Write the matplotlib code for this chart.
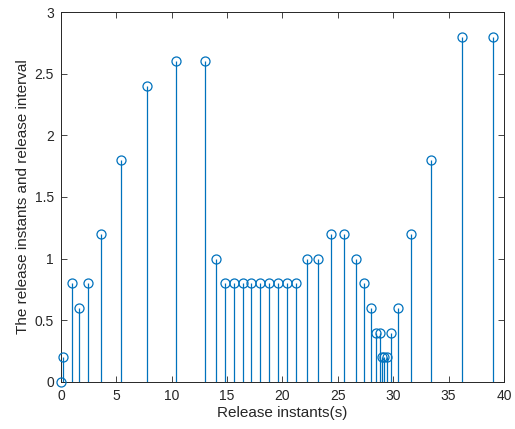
import numpy as np
import matplotlib
matplotlib.use('Agg')
import matplotlib.pyplot as plt

plt.rcParams['font.family'] = ['Liberation Sans', 'DejaVu Sans']

# release intervals; release instants are their running sum
intervals = [0, 0.2, 0.8, 0.6, 0.8, 1.2, 1.8, 2.4, 2.6, 2.6,
             1.0, 0.8, 0.8, 0.8, 0.8, 0.8, 0.8, 0.8, 0.8, 0.8,
             1.0, 1.0, 1.2, 1.2, 1.0, 0.8, 0.6, 0.4, 0.4,
             0.2, 0.2, 0.2, 0.4, 0.6, 1.2, 1.8, 2.8, 2.8]
instants = np.cumsum(intervals)

xticks = [0, 5, 10, 15, 20, 25, 30, 35, 40]
yticks = [0, 0.5, 1, 1.5, 2, 2.5, 3]

fig = plt.figure(figsize=(5.15, 4.29), dpi=100)
ax = fig.add_axes([0.1184, 0.1096, 0.8602, 0.8624])

c = '#0072BD'
ml, sl, bl = ax.stem(instants, intervals, basefmt=' ')
plt.setp(sl, color=c, linewidth=0.9)
plt.setp(ml, markerfacecolor='none', markeredgecolor=c, markersize=6.5,
         markeredgewidth=0.9, clip_on=False, zorder=3)

ax.set_xlim(0, 40)
ax.set_ylim(0, 3)
ax.set_xticks(xticks)
ax.set_xticklabels([str(t) for t in xticks])
ax.set_yticks(yticks)
ax.set_yticklabels(['0', '0.5', '1', '1.5', '2', '2.5', '3'])
ax.tick_params(direction='in', length=4, width=0.6, top=True, right=True,
               labelsize=10, colors='#262626', labelcolor='#262626', pad=5)
for s in ax.spines.values():
    s.set_linewidth(0.7)
    s.set_color('#262626')

ax.set_xlabel('Release instants(s)', fontsize=11, color='#262626', labelpad=2)
ax.set_ylabel('The release instants and release interval', fontsize=11, color='#262626', labelpad=3)

fig.savefig('out.png', dpi=100)
